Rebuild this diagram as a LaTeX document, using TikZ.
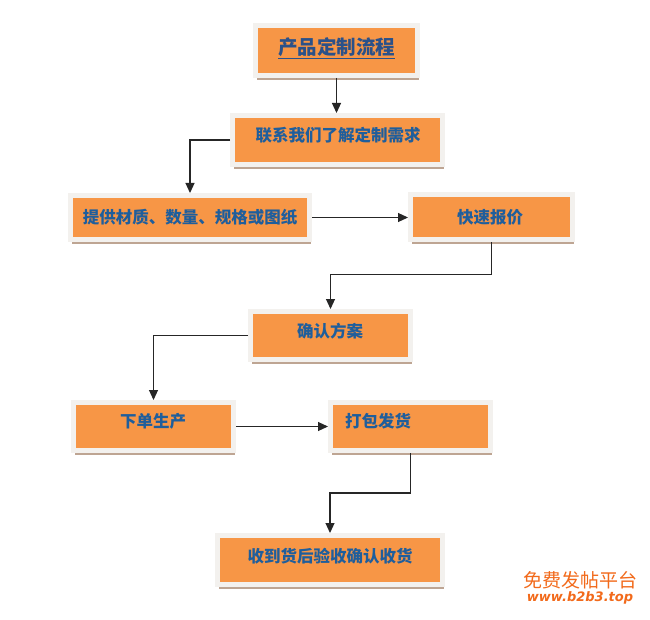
\documentclass[tikz,border=0pt]{standalone}
\usepackage{fontspec}
\newfontfamily\cjk{Noto Sans CJK SC}
\newfontfamily\wmfont{DejaVu Sans}
\usetikzlibrary{shadows,arrows.meta}
\definecolor{boxfill}{HTML}{F79646}
\definecolor{framecol}{HTML}{F3F1EE}
\definecolor{shadowcol}{HTML}{B89C88}
\definecolor{txt}{HTML}{1F5E9C}
\definecolor{titletxt}{HTML}{2B5189}
\definecolor{wm}{HTML}{F26A1B}
\begin{document}
\begin{tikzpicture}[x=1pt,y=-1pt,
 stepbox/.style={draw=framecol, line width=5pt, fill=boxfill, inner sep=0pt,
   drop shadow={shadow xshift=1.5pt, shadow yshift=-4.5pt, fill=shadowcol, opacity=0.9}},
 lbl/.style={text=txt, font=\cjk\bfseries\fontsize{16.5}{18}\selectfont, inner sep=0pt},
 conn/.style={line width=1.1pt, draw=black!85},
 arr/.style={conn, -{Triangle[length=10pt,width=9pt]}}]
\fill[white] (0,0) rectangle (650,620);
\useasboundingbox (0,0) rectangle (650,620);

% boxes
\node[stepbox, minimum width=162pt, minimum height=50pt] (b1) at (336.5,50.5) {};
\node[stepbox, minimum width=210pt, minimum height=49pt] (b2) at (337.5,140) {};
\node[stepbox, minimum width=239pt, minimum height=44pt] (b3) at (190,217.5) {};
\node[stepbox, minimum width=162pt, minimum height=45pt] (b4) at (491.5,217.5) {};
\node[stepbox, minimum width=160pt, minimum height=48pt] (b5) at (330.5,335.5) {};
\node[stepbox, minimum width=160pt, minimum height=48pt] (b6) at (153.5,426.5) {};
\node[stepbox, minimum width=160pt, minimum height=48pt] (b7) at (410.5,426.5) {};
\node[stepbox, minimum width=225pt, minimum height=49pt] (b8) at (330,560) {};

% labels
\node[lbl, text=titletxt, font=\cjk\bfseries\fontsize{19.5}{21}\selectfont] (t1) at (336.5,48) {\underline{产品定制流程}};
\node[lbl] (t2) at (338,135) {联系我们了解定制需求};
\node[lbl] (t3) at (190,217) {提供材质、数量、规格或图纸};
\node[lbl] (t4) at (490,217) {快速报价};
\node[lbl] (t5) at (330,331) {确认方案};
\node[lbl] (t6) at (153,421) {下单生产};
\node[lbl] (t7) at (378,421) {打包发货};
\node[lbl] (t8) at (330,556) {收到货后验收确认收货};

% connectors
\draw[arr] (b1.south) -- (b1.south |- b2.north);
\draw[arr] (b2.west) -| (b3.north);
\draw[arr] (b3.east) -- (b4.west);
\draw[arr] (b4.south) -- ++(0,32) -| (b5.north);
\draw[arr] (b5.west) -| (b6.north);
\draw[arr] (b6.east) -- (b7.west);
\draw[arr] (b7.south) -- ++(0,40) -| (b8.north);

% watermark
\node[text=wm, font=\cjk\fontsize{19}{21}\selectfont, inner sep=0pt] (wm1) at (580,580) {免费发帖平台};
\node[text=wm, font=\wmfont\bfseries\itshape\fontsize{13}{15}\selectfont, inner sep=0pt] (wm2) at (580,598) {www.b2b3.top};
\end{tikzpicture}
\end{document}
